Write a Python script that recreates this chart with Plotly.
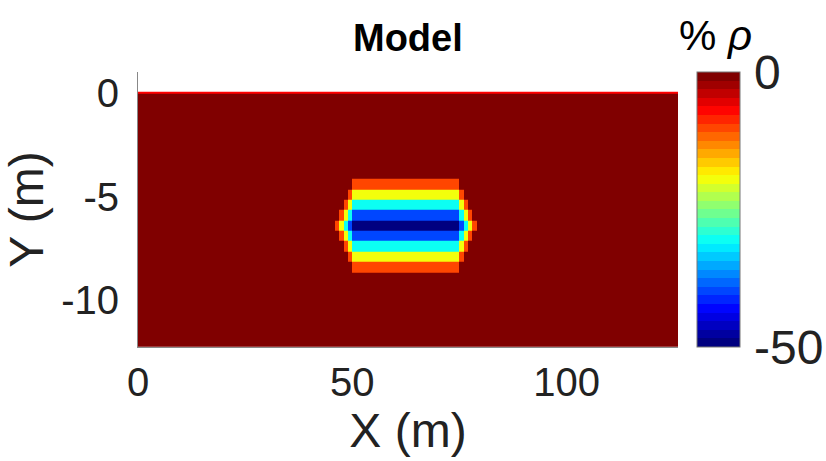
import plotly.graph_objects as go

# ---- data ----
# x cell edges (m): background | 4 wing columns | core | 4 wing columns | background
x_edges = [0, 46, 47, 48, 49, 50, 75, 76, 77, 78, 79, 126]
# y cell edges (m), top to bottom
y_edges_top_down = [0, -4.15, -4.65, -5.15, -5.65, -6.15, -6.65, -7.15, -7.65, -8.15, -8.65, -12.25]
# % rho change per cell, rows top to bottom
z_top_down = [
    [0,   0,   0,   0,   0,   0,   0,   0,   0,   0,  0],
    [0,   0,   0,   0,   0, -10,   0,   0,   0,   0,  0],
    [0,   0,   0,   0, -10, -20, -10,   0,   0,   0,  0],
    [0,   0,   0, -10, -20, -30, -20, -10,   0,   0,  0],
    [0,   0, -10, -20, -30, -40, -30, -20, -10,   0,  0],
    [0, -10, -20, -30, -40, -50, -40, -30, -20, -10,  0],
    [0,   0, -10, -20, -30, -40, -30, -20, -10,   0,  0],
    [0,   0,   0, -10, -20, -30, -20, -10,   0,   0,  0],
    [0,   0,   0,   0, -10, -20, -10,   0,   0,   0,  0],
    [0,   0,   0,   0,   0, -10,   0,   0,   0,   0,  0],
    [0,   0,   0,   0,   0,   0,   0,   0,   0,   0,  0],
]
surface_x = [0, 126]
surface_y = [0, 0]
x_ticks = [0, 50, 100]
x_ticktext = ["0", "50", "100"]
y_ticks = [0, -5, -10]
y_ticktext = ["0", "-5", "-10"]
cbar_ticks = [0, -50]
cbar_ticktext = ["0", "-50"]

# ---- discrete jet colormap (32 levels) ----
def jet(f):
    def clip(v):
        return max(0.0, min(1.0, v))
    r = clip(min(4 * f - 1.5, -4 * f + 4.5))
    g = clip(min(4 * f - 0.5, -4 * f + 3.5))
    b = clip(min(4 * f + 0.5, -4 * f + 2.5))
    return f"rgb({round(r*255)},{round(g*255)},{round(b*255)})"

N = 32
colorscale = []
for i in range(N):
    c = jet(i / (N - 1))
    colorscale.append([i / N, c])
    colorscale.append([(i + 1) / N, c])

y_edges = list(reversed(y_edges_top_down))
z = list(reversed(z_top_down))

FONT = "Liberation Sans, Arial, Helvetica, sans-serif"

fig = go.Figure()
fig.add_trace(go.Heatmap(
    x=x_edges, y=y_edges, z=z,
    zmin=-50, zmax=0,
    colorscale=colorscale,
    hoverinfo="skip",
    colorbar=dict(
        x=1.035, xanchor="left", y=0.5, yanchor="middle",
        len=1.0, lenmode="fraction",
        thickness=43, thicknessmode="pixels",
        outlinecolor="#777777", outlinewidth=1,
        tickvals=cbar_ticks, showticklabels=False,
        ticks="",
        xpad=0, ypad=0,
    ),
))
fig.add_trace(go.Scatter(
    x=surface_x, y=surface_y, mode="lines",
    line=dict(color="#ff0000", width=2),
    hoverinfo="skip", showlegend=False,
))

annotations = [
    dict(text="<b>Model</b>", x=0.5, y=1.0, xref="paper", yref="paper",
         yanchor="middle", yshift=34, showarrow=False,
         font=dict(size=38, color="black", family=FONT)),
    dict(text="% <i>ρ</i>", xref="paper", yref="paper", x=1.07, y=1.0,
         xanchor="center", yanchor="middle", yshift=37, showarrow=False,
         font=dict(size=42, color="black", family=FONT)),
]
# colorbar tick labels (placed next to the bar ends)
for val, txt, ypos in zip(cbar_ticks, cbar_ticktext, [1.0, 0.0]):
    annotations.append(dict(
        text=txt, xref="paper", yref="paper", x=1.137, y=ypos,
        xanchor="left", yanchor="middle", showarrow=False,
        font=dict(size=48, color="#222222", family=FONT)))

fig.update_layout(
    width=826, height=461,
    margin=dict(l=138, r=148, t=72, b=114),
    paper_bgcolor="white", plot_bgcolor="white",
    font=dict(family=FONT, color="#222222"),
    showlegend=False,
    annotations=annotations,
)

fig.update_xaxes(
    range=[0, 126], tickvals=x_ticks, ticktext=x_ticktext,
    tickfont=dict(size=40), showgrid=False, zeroline=False,
    showline=True, linecolor="#888888", linewidth=1, ticks="",
    title=dict(text="X (m)", font=dict(size=48), standoff=2),
)
fig.update_yaxes(
    range=[-12.25, 1], tickvals=y_ticks, ticktext=y_ticktext,
    tickfont=dict(size=40), showgrid=False, zeroline=False,
    showline=True, linecolor="#888888", linewidth=1, ticks="",
    ticklabelstandoff=10,
    title=dict(text="Y (m)", font=dict(size=48), standoff=4),
)

fig.write_html("out.html")
